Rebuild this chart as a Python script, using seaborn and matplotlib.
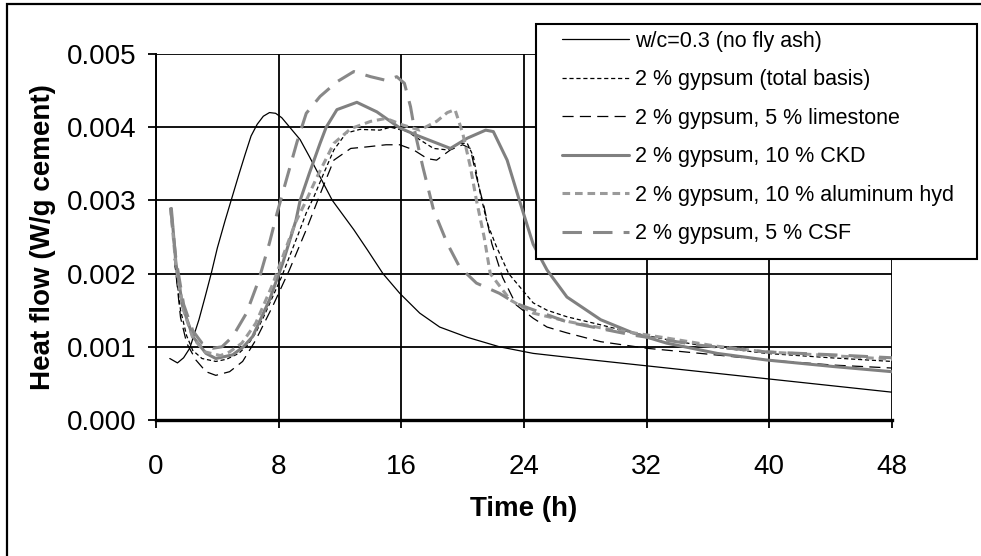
import numpy as np
import pandas as pd
import seaborn as sns
import matplotlib
matplotlib.use("Agg")
import matplotlib.pyplot as plt
from matplotlib.patches import Rectangle

# ---------------- data ----------------
labels = [
    "w/c=0.3 (no fly ash)",
    "2 % gypsum (total basis)",
    "2 % gypsum, 5 % limestone",
    "2 % gypsum, 10 % CKD",
    "2 % gypsum, 10 % aluminum hyd",
    "2 % gypsum, 5 % CSF",
]

t_wc = [0.9, 1.4, 1.8, 2.2, 2.8, 3.2, 3.6, 4.0, 4.5, 4.9, 5.4, 5.8, 6.2, 6.6, 7.0, 7.4,
        7.8, 8.2, 8.8, 9.4, 10.0, 10.7, 11.5, 12.2, 12.9, 13.8, 14.8, 15.9, 17.2, 18.5,
        20.3, 22.4, 24.6, 28, 32, 36, 40, 44, 48]
y_wc = [0.00084, 0.00078, 0.00085, 0.00098, 0.00137, 0.00168, 0.00200, 0.00235, 0.00272,
        0.00300, 0.00335, 0.00362, 0.00388, 0.00404, 0.00415, 0.00420, 0.00419, 0.00413,
        0.00398, 0.00383, 0.00360, 0.00332, 0.00300, 0.00280, 0.00260, 0.00232, 0.00200,
        0.00173, 0.00146, 0.00127, 0.00113, 0.00100, 0.00091, 0.00083, 0.00074, 0.00065,
        0.00056, 0.00047, 0.00038]

t_tb = [1.2, 1.6, 2.0, 2.4, 3.0, 3.9, 4.6, 5.4, 6.0, 6.5, 7.0, 7.6, 8.2, 8.7, 9.3, 9.8,
        10.3, 10.9, 11.6, 12.4, 13.3, 14.6, 15.3, 16.4, 17.2, 18.1, 19.0, 19.8, 20.3, 20.7,
        21.1, 21.6, 22.2, 23.0, 24.0, 24.6, 25.5, 26.8, 29, 31.1, 33.3, 35.5, 39.8, 44, 48]
y_tb = [0.00220, 0.00150, 0.00115, 0.00095, 0.00084, 0.00080, 0.00083, 0.00091, 0.00103,
        0.00119, 0.00140, 0.00168, 0.00196, 0.00223, 0.00255, 0.00283, 0.00305, 0.00335,
        0.00369, 0.00392, 0.00397, 0.00396, 0.00400, 0.00394, 0.00383, 0.00371, 0.00369,
        0.00378, 0.00378, 0.00360, 0.00314, 0.00269, 0.00237, 0.00200, 0.00175, 0.00160,
        0.00150, 0.00141, 0.00130, 0.00119, 0.00110, 0.00102, 0.00091, 0.00085, 0.00080]

t_ls = [1.2, 1.6, 2.0, 2.6, 3.26, 3.9, 4.8, 5.65, 6.5, 7.6, 8.7, 9.8, 10.9, 11.6, 12.7,
        13.7, 15.0, 15.9, 16.8, 17.7, 18.3, 19.2, 20.0, 20.5, 20.9, 21.4, 21.9, 22.6, 23.5,
        24.6, 25.5, 26.8, 29, 32, 35.5, 39.8, 44.2, 48]
y_ls = [0.00220, 0.00140, 0.00105, 0.00082, 0.00066, 0.00061, 0.00066, 0.00080, 0.00109,
        0.00155, 0.00205, 0.00260, 0.00319, 0.00355, 0.00371, 0.00373, 0.00376, 0.00376,
        0.00369, 0.00357, 0.00355, 0.00369, 0.00376, 0.00371, 0.00332, 0.00291, 0.00241,
        0.00195, 0.00157, 0.00139, 0.00127, 0.00119, 0.00107, 0.00098, 0.00091, 0.00082,
        0.00075, 0.00071]

t_ckd = [1.0, 1.3, 1.74, 2.4, 3.26, 3.9, 5.0, 5.7, 6.3, 7.4, 8.26, 9.13, 9.4, 10.0, 10.7,
         11.1, 11.8, 13.1, 14.4, 15.9, 17.0, 18.1, 19.2, 20.3, 21.5, 22.0, 22.9, 23.7, 24.6,
         25.5, 26.8, 29, 31.1, 33.3, 36.6, 39.8, 44.2, 48]
y_ckd = [0.00289, 0.00214, 0.00155, 0.00114, 0.00091, 0.00084, 0.00089, 0.00100, 0.00114,
         0.00164, 0.00214, 0.00273, 0.00300, 0.00337, 0.00378, 0.00400, 0.00424, 0.00434,
         0.00421, 0.00399, 0.00389, 0.00380, 0.00371, 0.00385, 0.00396, 0.00394, 0.00355,
         0.00300, 0.00240, 0.00205, 0.00168, 0.00137, 0.00119, 0.00105, 0.00091, 0.00082,
         0.00073, 0.00066]

t_al = [0.95, 1.3, 1.8, 2.4, 3.2, 4.2, 4.8, 5.6, 6.5, 7.6, 8.3, 9.1, 9.8, 10.5, 11.6, 12.7,
        14.0, 15.0, 16.1, 17.2, 18.3, 19.0, 19.5, 20.0, 20.5, 20.9, 21.4, 21.8, 23.1, 24.6,
        27, 29, 33.3, 36.5, 39.8, 44, 48]
y_al = [0.00290, 0.00210, 0.00150, 0.00112, 0.00093, 0.00088, 0.00093, 0.00105, 0.00132,
        0.00185, 0.00225, 0.00270, 0.00300, 0.00332, 0.00378, 0.00398, 0.00408, 0.00412,
        0.00403, 0.00396, 0.00408, 0.00420, 0.00424, 0.00392, 0.00346, 0.00300, 0.00250,
        0.00200, 0.00164, 0.00146, 0.00134, 0.00126, 0.00112, 0.00101, 0.00093, 0.00088,
        0.00083]

t_csf = [0.95, 1.3, 1.8, 2.4, 3.0, 3.7, 4.3, 5.0, 5.9, 6.7, 7.4, 7.9, 8.5, 9.2, 9.8, 10.7,
         11.8, 12.9, 14.0, 15.0, 15.7, 16.2, 16.6, 16.9, 17.4, 18.1, 19.0, 19.8, 20.9, 22.4,
         23.5, 26.8, 31.1, 35.5, 39.8, 44.2, 48]
y_csf = [0.00290, 0.00220, 0.00158, 0.00122, 0.00105, 0.00098, 0.00100, 0.00114, 0.00146,
         0.00191, 0.00242, 0.00283, 0.00328, 0.00380, 0.00419, 0.00442, 0.00462, 0.00476,
         0.00469, 0.00464, 0.00469, 0.00460, 0.00428, 0.00392, 0.00346, 0.00287, 0.00241,
         0.00209, 0.00187, 0.00173, 0.00159, 0.00134, 0.00116, 0.00102, 0.00093, 0.00089,
         0.00085]

x_ticks = [0, 8, 16, 24, 32, 40, 48]
y_ticks = [0.000, 0.001, 0.002, 0.003, 0.004, 0.005]
y_ticklabels = ["0.000", "0.001", "0.002", "0.003", "0.004", "0.005"]

series = [(t_wc, y_wc), (t_tb, y_tb), (t_ls, y_ls), (t_ckd, y_ckd), (t_al, y_al), (t_csf, y_csf)]

# ---------------- styles ----------------
styles = [
    dict(color="black", lw=0.9, ls="-"),
    dict(color="black", lw=0.9, ls=(0, (3.0, 2.0))),
    dict(color="black", lw=0.9, ls=(0, (8.0, 4.5))),
    dict(color="#808080", lw=2.2, ls="-"),
    dict(color="#9a9a9a", lw=2.2, ls=(0, (5.5, 3.5))),
    dict(color="#888888", lw=2.2, ls=(0, (14.0, 8.0))),
]

sns.set_theme(style="white")
plt.rcParams["font.family"] = ["Liberation Sans", "DejaVu Sans"]
plt.rcParams["lines.scale_dashes"] = False

W, H = 981, 556
fig = plt.figure(figsize=(W / 100, H / 100), dpi=100)
fig.patch.set_facecolor("white")
ax = fig.add_axes([156 / W, 1 - 420 / H, (892 - 156) / W, (420 - 54) / H])
ax.set_facecolor("white")

handles = []
for (t, y), lab, st in zip(series, labels, styles):
    df = pd.DataFrame({"t": t, "y": y})
    n0 = len(ax.lines)
    sns.lineplot(data=df, x="t", y="y", ax=ax, color=st["color"], linewidth=st["lw"],
                 linestyle=st["ls"], estimator=None, sort=False, legend=False)
    ln = ax.lines[n0]
    ln.set_label(lab)
    ln.set_dash_capstyle("butt")
    handles.append(ln)

ax.set_xlim(0, 48)
ax.set_ylim(0, 0.005)
ax.set_xticks(x_ticks)
ax.set_xticklabels([str(v) for v in x_ticks])
ax.set_yticks(y_ticks)
ax.set_yticklabels(y_ticklabels)

ax.grid(True, color="black", linewidth=1.3)
ax.set_axisbelow(True)
for s in ["top", "right"]:
    ax.spines[s].set_visible(False)
ax.spines["left"].set_color("black")
ax.spines["left"].set_linewidth(1.4)
ax.spines["bottom"].set_color("black")
ax.spines["bottom"].set_linewidth(2.4)

ax.tick_params(axis="x", which="major", direction="out", length=5.5, width=1.3,
               color="black", labelsize=20, pad=19, labelcolor="black", bottom=True)
ax.tick_params(axis="y", which="major", direction="out", length=6, width=1.3,
               color="black", labelsize=20, pad=8, labelcolor="black", left=True)

ax.set_xlabel("Time (h)", fontsize=20, fontweight="bold", color="black")
ax.set_ylabel("Heat flow (W/g cement)", fontsize=20, fontweight="bold", color="black")
ax.xaxis.label.set_va("center")
ax.xaxis.set_label_coords(0.5, -(509 - 420) / (420 - 54))
ax.yaxis.label.set_va("center")
ax.yaxis.set_label_coords(-(156 - 43) / (892 - 156), 0.5)

# outer chart frame (left and top edges visible in the reference)
frame = Rectangle((7 / W, -0.2), 1.2, 1 - 4 / H + 0.2, transform=fig.transFigure,
                  fill=False, edgecolor="black", linewidth=1.6, zorder=1)
fig.add_artist(frame)

# legend box
box = Rectangle((536 / W, 1 - 259 / H), (977 - 536) / W, (259 - 24) / H,
                transform=fig.transFigure, facecolor="white", edgecolor="black",
                linewidth=1.5, zorder=5)
fig.add_artist(box)
leg = fig.legend(handles, labels, loc="upper left",
                 bbox_to_anchor=(562 / W, 1 - 31 / H), bbox_transform=fig.transFigure,
                 frameon=False, fontsize=15.5, handlelength=3.1, handletextpad=0.3,
                 labelspacing=0.81, borderpad=0, borderaxespad=0)
leg.set_zorder(6)
for txt in leg.get_texts():
    txt.set_color("black")

fig.savefig("out.png", dpi=100, facecolor="white")
